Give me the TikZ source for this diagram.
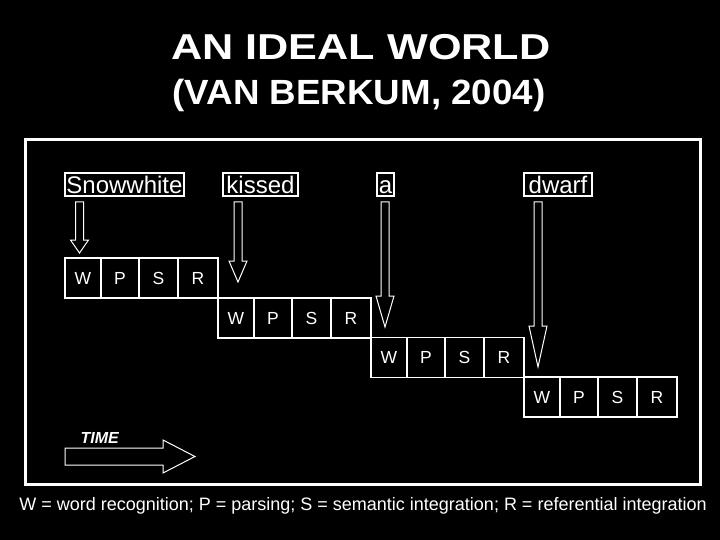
\documentclass[tikz,border=0pt]{standalone}
\usepackage{fontspec}
\setmainfont{Liberation Sans}
\usetikzlibrary{positioning}

% hollow block arrow pointing down: top centre, shaft length, head length
\newcommand{\hollowdown}[3]{%
  \draw[arrowline] (#1) ++(-4,0) -- ++(0,#2) -- ++(-5,0) -- ++(9,#3)
    -- ++(9,-#3) -- ++(-5,0) -- ++(0,-#2) -- cycle;}

\begin{document}
\begin{tikzpicture}[x=1pt, y=-1pt,
    word/.style={draw=white, text=white, line width=1.2pt, inner sep=0pt,
      outer sep=0pt, minimum height=23pt, text height=21pt, text depth=2pt,
      font=\fontsize{24}{24}\selectfont},
    cell/.style={draw=white, text=white, line width=1.3pt, inner sep=0pt,
      outer sep=0pt, minimum height=40pt, text height=12.5pt, text depth=0pt,
      font=\fontsize{17.5}{17.5}\selectfont},
    arrowline/.style={draw=white, line width=1pt, line join=miter}]
  \fill[black] (0,0) rectangle (720,540);
  \useasboundingbox (0,0) rectangle (720,540);

  \node[text=white, anchor=base, xscale=1.2, font=\bfseries\fontsize{36}{36}\selectfont]
    (title) at (361,60) {AN IDEAL WORLD};
  \node[text=white, anchor=base, xscale=1.05, font=\bfseries\fontsize{35}{35}\selectfont]
    (subtitle) at (359,105) {(VAN BERKUM, 2004)};

  \draw[white, line width=3pt] (25,139.5) rectangle (700.5,484.5);

  % the words
  \node[word, minimum width=119pt] (Snowwhite) at (124.5,184.5) {Snowwhite};
  \node[word, minimum width=75pt]  (kissed)    at (260.5,184.5) {kissed};
  \node[word, minimum width=17pt]  (a)         at (385.5,184.5) {a};
  \node[word, minimum width=68pt]  (dwarf)     at (558,184.5)   {dwarf};

  % processing stages, one row per word
  \foreach \row/\x/\y in {1/65/258, 2/218/298, 3/371/337.5, 4/524/377} {
    \node[cell, minimum width=36pt, anchor=north west] (W\row) at (\x,\y) {W};
    \node[cell, minimum width=38pt, right=0pt of W\row] (P\row) {P};
    \node[cell, minimum width=39pt, right=0pt of P\row] (S\row) {S};
    \node[cell, minimum width=40pt, right=0pt of S\row] (R\row) {R};
  }

  \coordinate (top1) at ([xshift=14.5pt, yshift=-6pt]Snowwhite.south west);
  \coordinate (top2) at ([xshift=15pt, yshift=-6pt]kissed.south west);
  \coordinate (top3) at ([xshift=8pt, yshift=-6pt]a.south west);
  \coordinate (top4) at ([xshift=14pt, yshift=-6pt]dwarf.south west);
  \hollowdown{top1}{38}{13}
  \hollowdown{top2}{59}{21}
  \hollowdown{top3}{94}{31}
  \hollowdown{top4}{124}{41}

  % time arrow
  \node[text=white, anchor=base west, font=\bfseries\itshape\fontsize{16}{16}\selectfont]
    (time) at (77,443) {TIME};
  \coordinate (timestart) at (65,448);
  \draw[arrowline] (timestart) -- ++(98,0) -- ++(0,-8) -- ++(32,16.5)
    -- ++(-32,16.5) -- ++(0,-8) -- ++(-98,0) -- cycle;

  \node[text=white, anchor=base, font=\fontsize{18}{18}\selectfont]
    (legend) at (363,510)
    {W = word recognition; P = parsing; S = semantic integration; R = referential integration};
\end{tikzpicture}
\end{document}
